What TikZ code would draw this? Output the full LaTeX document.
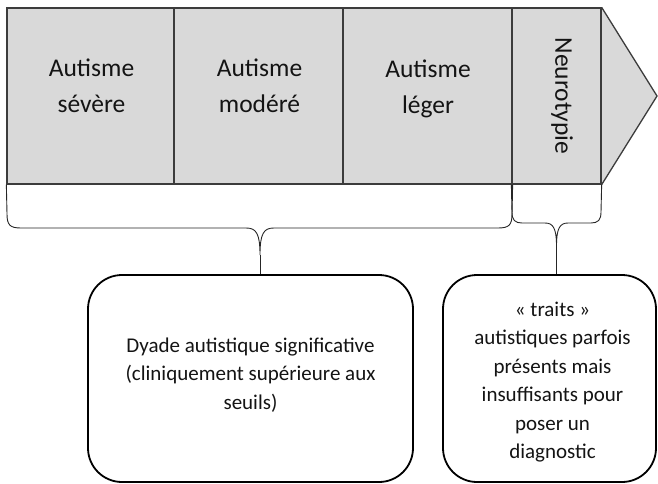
\documentclass[tikz,border=0pt]{standalone}
\usepackage{fontspec}
\setmainfont{Carlito}
\definecolor{linegray}{HTML}{3C3C3C}
\definecolor{arrowfill}{HTML}{D9D9D9}
\definecolor{textc}{HTML}{141414}
\begin{document}
\begin{tikzpicture}[x=1pt,y=-1pt,
  cell/.style={draw=linegray, line width=1.3pt, fill=arrowfill, inner sep=0pt},
  seg/.style={draw=linegray, line width=1.3pt, line join=miter},
  lbl/.style={font=\fontsize{25.5}{36}\selectfont, text=textc, align=center, inner sep=0pt},
  box/.style={draw=black, line width=1.8pt, rounded corners=34pt, fill=white, inner sep=0pt},
  btxt/.style={font=\fontsize{21}{28.5}\selectfont, text=textc, align=center, inner sep=0pt},
  brace/.style={draw=black!85, line width=0.9pt}]
\useasboundingbox (0,0) rectangle (658,483);
% arrow tip
\coordinate (tip) at (657,96);
\node[cell, minimum width=89pt, minimum height=176pt] (c4) at (556.5,96) {};
\path[fill=arrowfill] (c4.north east) -- (tip) -- (c4.south east) -- cycle;
\draw[seg] (c4.north east) -- (tip) -- (c4.south east);
% cells
\node[cell, minimum width=167pt, minimum height=176pt] (c1) at (90.5,96) {};
\node[cell, minimum width=169pt, minimum height=176pt] (c2) at (258.5,96) {};
\node[cell, minimum width=169pt, minimum height=176pt] (c3) at (427.5,96) {};
\node[cell, minimum width=89pt, minimum height=176pt] (c4b) at (556.5,96) {};
% labels
\node[lbl] (t1) at (91.5,86) {Autisme\\sévère};
\node[lbl] (t2) at (259.5,86) {Autisme\\modéré};
\node[lbl] (t3) at (428,88.5) {Autisme\\léger};
\node[lbl, rotate=-90] (t4) at (562,96) {Neurotypie};
% bottom boxes
\node[box, minimum width=325pt, minimum height=207pt] (b1) at (250.5,378.5) {};
\node[btxt] (bt1) at (250.5,375) {Dyade autistique significative\\(cliniquement supérieure aux\\seuils)};
\node[box, minimum width=213pt, minimum height=207pt] (b2) at (549.5,378.5) {};
\node[btxt] (bt2) at (552.5,382) {« traits »\\autistiques parfois\\présents mais\\insuffisants pour\\poser un\\diagnostic};
% braces
\coordinate (k1) at (260,255);
\coordinate (k2) at (556.5,246);
\draw[brace] (c1.south west) -- (7,214) .. controls (7,225) and (10,228) .. (21,228)
  -- (246,228) .. controls (256,228) and (260,233) .. (k1)
  .. controls (260,233) and (264,228) .. (274,228)
  -- (498,228) .. controls (509,228) and (512,225) .. (512,214) -- (c3.south east);
\draw[brace] (k1) -- (k1 |- b1.north);
\draw[brace] (c4b.south west) -- (512,212) .. controls (512,220) and (515,223) .. (522,223)
  -- (545,223) .. controls (553,223) and (556.5,228) .. (k2)
  .. controls (556.5,228) and (560,223) .. (568,223)
  -- (591,223) .. controls (598,223) and (601,220) .. (601,212) -- (c4b.south east);
\draw[brace] (k2) -- (k2 |- b2.north);
\end{tikzpicture}
\end{document}
